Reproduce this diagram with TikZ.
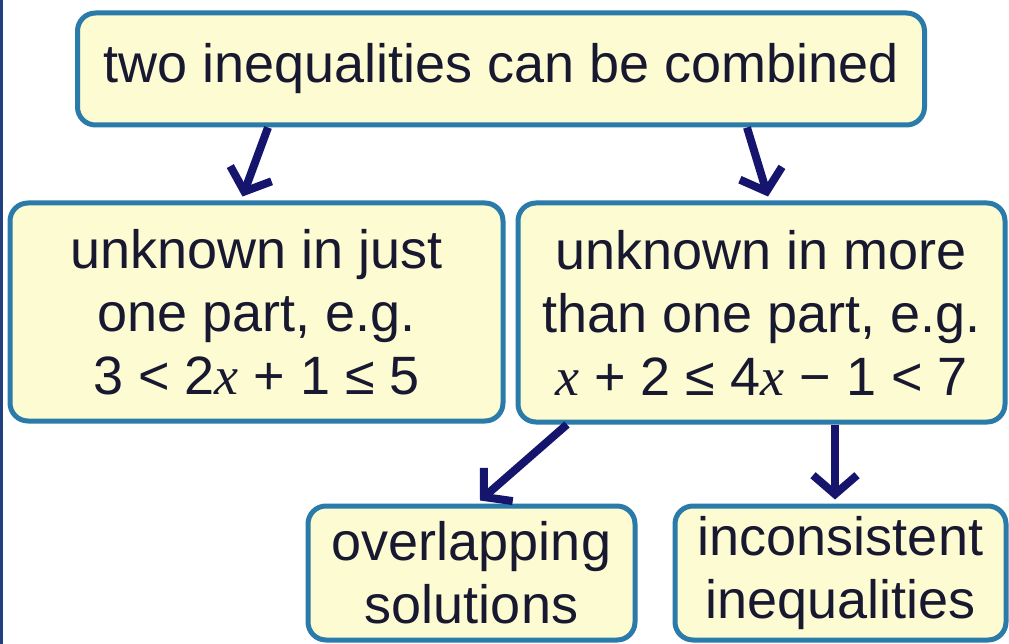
\documentclass[tikz,border=0pt]{standalone}
\usepackage{fontspec}
\setmainfont{Liberation Sans}
\newfontfamily\mathserif{Liberation Serif}
\usetikzlibrary{arrows.meta,calc}
\definecolor{boxline}{HTML}{2A7AAA}
\definecolor{boxfill}{HTML}{FDFBD2}
\definecolor{arrowcol}{HTML}{15156E}
\definecolor{textcol}{HTML}{181830}
\definecolor{edgecol}{HTML}{22407E}
\newcommand{\vx}{{\mathserif\itshape x}}
\tikzset{
  concept/.style={draw=boxline, fill=boxfill, line width=5pt, rounded corners=18pt,
    text=textcol, align=center, inner sep=0pt,
    font=\fontsize{54}{63}\selectfont},
  arr/.style={draw=arrowcol, line width=8pt,
    -{Straight Barb[length=19pt,width=44pt,line width=8pt]}}
}
\begin{document}
\begin{tikzpicture}[x=1pt,y=-1pt]
\useasboundingbox (0,0) rectangle (1009,644);
\fill[white] (0,0) rectangle (1009,644);
\draw[edgecol, line width=3pt] (1.5,0) -- (1.5,644);

\node[concept, minimum width=847pt, minimum height=112pt] (top) at (501,69)
  {two inequalities can be combined};
\node[concept, minimum width=493pt, minimum height=218pt] (left) at (256.5,312)
  {unknown in just\\one part, e.g.\\3 < 2\vx{} + 1 ≤ 5};
\node[concept, minimum width=487pt, minimum height=219pt] (right) at (761.5,312.5)
  {unknown in more\\than one part, e.g.\\\vx{} + 2 ≤ 4\vx{} − 1 < 7};
\node[concept, minimum width=327pt, minimum height=134pt] (bl) at (471.5,573)
  {overlapping\\solutions};
\node[concept, minimum width=331pt, minimum height=134pt] (br) at (840.5,573)
  {inconsistent\\inequalities};

\draw[arr] ($(top.south)+(-233,0)$) -- ($(left.north)+(-14,-4)$);
\draw[arr] ($(top.south)+(246,0)$) -- ($(right.north)+(6.5,-4)$);
\draw[arr] ($(right.south)+(-194.5,0)$) -- ($(bl.north)+(8.5,-3)$);
\draw[arr] ($(right.south)+(73.5,0)$) -- ($(br.north)+(-5.5,-4)$);
\end{tikzpicture}
\end{document}
